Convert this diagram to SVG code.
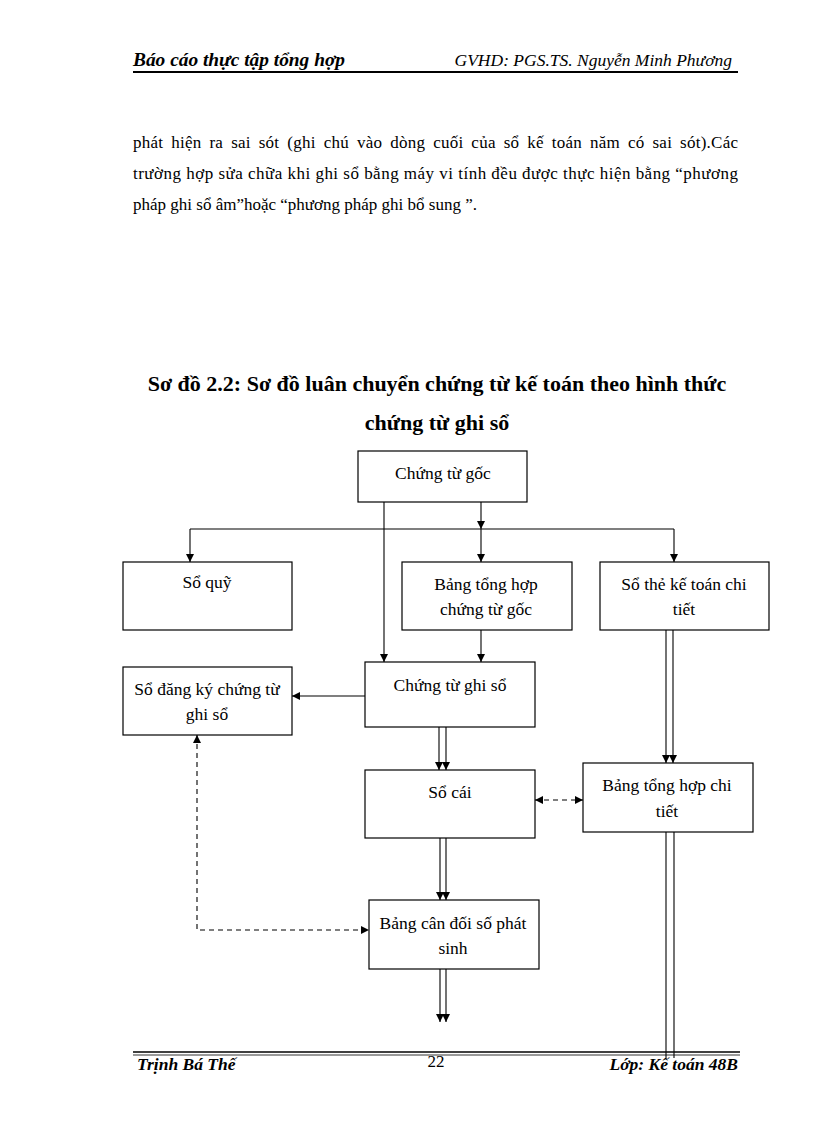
<svg xmlns="http://www.w3.org/2000/svg" width="816" height="1123" viewBox="0 0 816 1123">
<style>
  .bx{fill:#fff;stroke:#000;stroke-width:1.2}
  .t{font-family:"Liberation Serif","Times New Roman",serif;font-size:17.5px;fill:#000;text-anchor:middle}
  .body{font-family:"Liberation Serif","Times New Roman",serif;font-size:17px;fill:#000}
  .hd{font-family:"Liberation Serif","Times New Roman",serif;fill:#000;font-style:italic}
  .ttl{font-family:"Liberation Serif","Times New Roman",serif;font-size:22px;font-weight:bold;fill:#000;text-anchor:middle}
  .c{stroke:#000;stroke-width:1.1;fill:none}
  .d{stroke:#000;stroke-width:1.1;fill:none;stroke-dasharray:5 4}
</style>
<defs>
  <marker id="ah" markerUnits="userSpaceOnUse" markerWidth="8" markerHeight="8" viewBox="0 0 8 8" refX="8" refY="4" orient="auto">
    <path d="M0,0 L8,4 L0,8 Z" fill="#000"/>
  </marker>
  <marker id="as" markerUnits="userSpaceOnUse" markerWidth="8" markerHeight="8" viewBox="0 0 8 8" refX="0" refY="4" orient="auto">
    <path d="M8,0 L0,4 L8,8 Z" fill="#000"/>
  </marker>
</defs>
<rect width="816" height="1123" fill="#fff"/>

<g id="header">
  <text class="hd" x="133" y="66" font-size="18" font-weight="bold" textLength="212" lengthAdjust="spacingAndGlyphs">Báo cáo thực tập tổng hợp</text>
  <text class="hd" x="732" y="66" font-size="17.5" text-anchor="end">GVHD: PGS.TS. Nguyễn Minh Phương</text>
  <line x1="133" y1="72" x2="738" y2="72" stroke="#000" stroke-width="2"/>
</g>

<g id="body-text">
  <text class="body" x="133" y="148" word-spacing="3.5" textLength="605" lengthAdjust="spacing">phát hiện ra sai sót (ghi chú vào dòng cuối của sổ kế toán năm có sai sót).Các</text>
  <text class="body" x="133" y="179" textLength="605" lengthAdjust="spacing">trường hợp sửa chữa khi ghi sổ bằng máy vi tính đều được thực hiện bằng “phương</text>
  <text class="body" x="133" y="210">pháp  ghi sổ âm”hoặc  “phương  pháp  ghi bổ sung ”.</text>
</g>

<g id="title">
  <text class="ttl" x="437" y="391">Sơ đồ 2.2: Sơ đồ luân  chuyển  chứng từ kế toán theo hình  thức</text>
  <text class="ttl" x="437" y="430">chứng từ ghi sổ</text>
</g>

<g id="connectors">
  <line class="c" x1="481" y1="502" x2="481" y2="529" marker-end="url(#ah)"/>
  <line class="c" x1="190" y1="529" x2="674" y2="529"/>
  <line class="c" x1="190" y1="529" x2="190" y2="562" marker-end="url(#ah)"/>
  <line class="c" x1="481" y1="529" x2="481" y2="562" marker-end="url(#ah)"/>
  <line class="c" x1="674" y1="529" x2="674" y2="562" marker-end="url(#ah)"/>
  <line class="c" x1="384" y1="502" x2="384" y2="662" marker-end="url(#ah)"/>
  <line class="c" x1="481" y1="630" x2="481" y2="662" marker-end="url(#ah)"/>
  <line class="c" x1="365" y1="696" x2="292" y2="696" marker-end="url(#ah)"/>
  <line class="c" x1="439" y1="727" x2="439" y2="770" marker-end="url(#ah)"/>
  <line class="c" x1="446" y1="727" x2="446" y2="770" marker-end="url(#ah)"/>
  <line class="c" x1="440" y1="838" x2="440" y2="900" marker-end="url(#ah)"/>
  <line class="c" x1="446" y1="838" x2="446" y2="900" marker-end="url(#ah)"/>
  <line class="c" x1="440" y1="969" x2="440" y2="1022" marker-end="url(#ah)"/>
  <line class="c" x1="446" y1="969" x2="446" y2="1022" marker-end="url(#ah)"/>
  <line class="c" x1="666" y1="630" x2="666" y2="763" marker-end="url(#ah)"/>
  <line class="c" x1="673" y1="630" x2="673" y2="763" marker-end="url(#ah)"/>
  <line class="c" x1="666" y1="832" x2="666" y2="1058"/>
  <line class="c" x1="674" y1="832" x2="674" y2="1058"/>
  <line class="d" x1="535" y1="800" x2="583" y2="800" marker-start="url(#as)" marker-end="url(#ah)"/>
  <path class="d" d="M197,735 L197,930 L369,930" marker-start="url(#as)" marker-end="url(#ah)"/>
</g>

<g id="n-chung-tu-goc">
  <rect class="bx" x="358" y="451" width="169" height="51"/>
  <text class="t" x="443" y="479">Chứng từ  gốc</text>
</g>
<g id="n-so-quy">
  <rect class="bx" x="123" y="562" width="169" height="68"/>
  <text class="t" x="207" y="588">Sổ quỹ</text>
</g>
<g id="n-bang-th-ctg">
  <rect class="bx" x="402" y="562" width="170" height="68"/>
  <text class="t" x="486" y="590">Bảng tổng hợp</text>
  <text class="t" x="486" y="615">chứng từ gốc</text>
</g>
<g id="n-so-the">
  <rect class="bx" x="600" y="562" width="169" height="68"/>
  <text class="t" x="684" y="590">Sổ thẻ kế toán chi</text>
  <text class="t" x="684" y="615">tiết</text>
</g>
<g id="n-ctgs">
  <rect class="bx" x="365" y="662" width="170" height="65"/>
  <text class="t" x="450" y="691">Chứng từ ghi sổ</text>
</g>
<g id="n-so-dang-ky">
  <rect class="bx" x="123" y="667" width="169" height="68"/>
  <text class="t" x="207" y="695">Sổ đăng ký chứng từ</text>
  <text class="t" x="207" y="720">ghi sổ</text>
</g>
<g id="n-so-cai">
  <rect class="bx" x="365" y="770" width="170" height="68"/>
  <text class="t" x="450" y="798">Sổ cái</text>
</g>
<g id="n-bang-th-ct">
  <rect class="bx" x="583" y="763" width="170" height="69"/>
  <text class="t" x="667" y="791">Bảng tổng hợp chi</text>
  <text class="t" x="667" y="817">tiết</text>
</g>
<g id="n-bcd">
  <rect class="bx" x="369" y="900" width="170" height="69"/>
  <text class="t" x="453" y="929">Bảng  cân đối số phát</text>
  <text class="t" x="453" y="954">sinh</text>
</g>

<g id="footer">
  <line x1="133" y1="1052" x2="740" y2="1052" stroke="#000" stroke-width="1.5"/>
  <line x1="133" y1="1055" x2="740" y2="1055" stroke="#000" stroke-width="0.8"/>
  <text class="hd" x="137" y="1070" font-size="17.5" font-weight="bold">Trịnh  Bá  Thế</text>
  <text class="body" x="436" y="1067" font-size="16" text-anchor="middle">22</text>
  <text class="hd" x="738" y="1070" font-size="17.5" font-weight="bold" text-anchor="end">Lớp: Kế toán 48B</text>
</g>
</svg>
